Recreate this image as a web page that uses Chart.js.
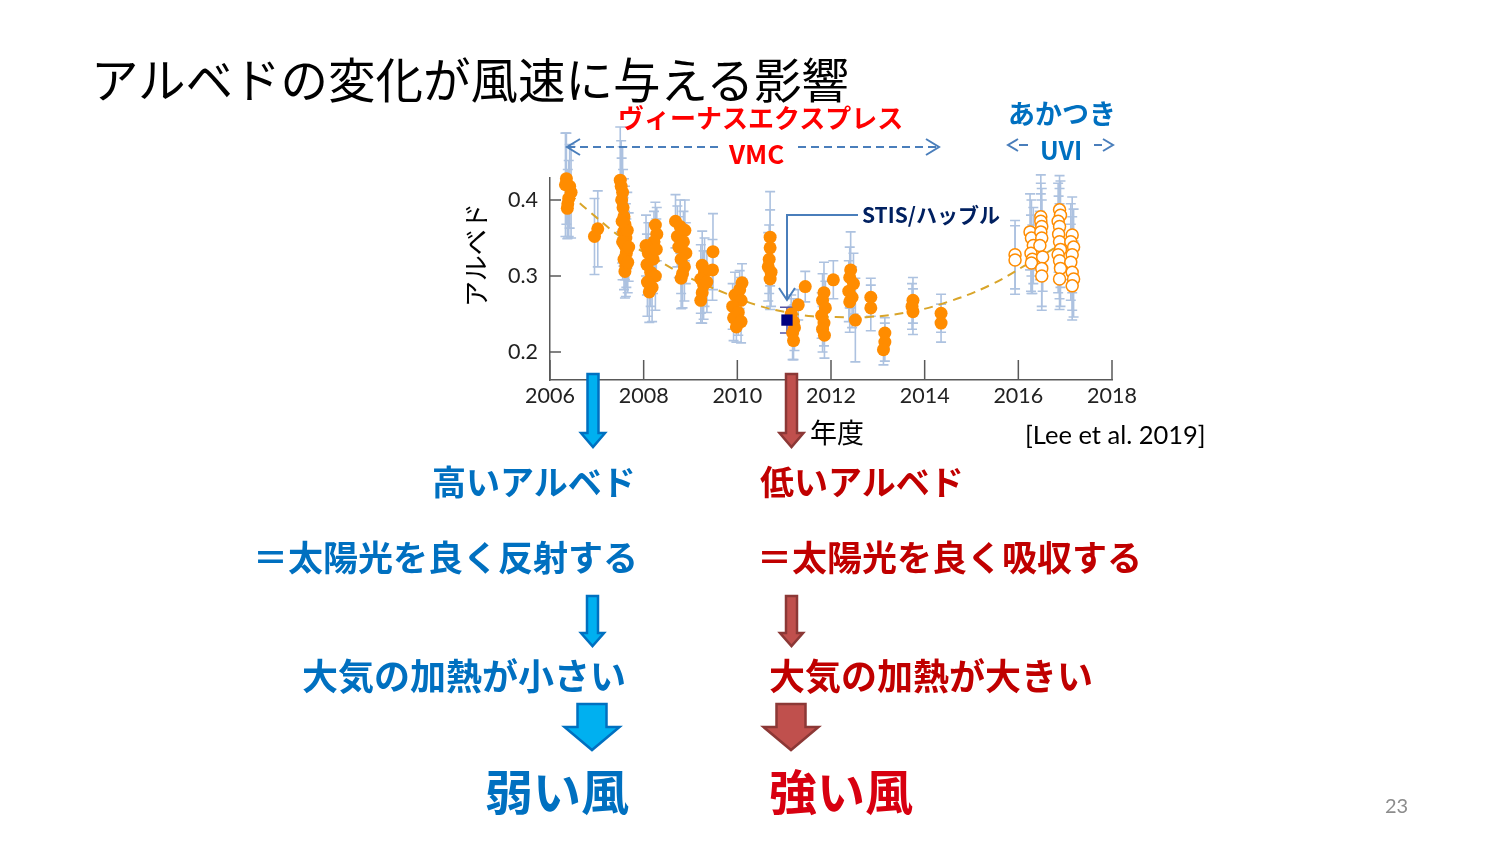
<!DOCTYPE html>
<html>
<head>
<meta charset="utf-8">
<script src="https://cdn.jsdelivr.net/npm/chart.js@4"></script>
<style>
  body { margin: 0; background: #fff; overflow: hidden; }
  #wrap { position: relative; width: 1500px; height: 843px; }
  #c { position: absolute; left: 0; top: 0; }
  #deco { position: absolute; left: 0; top: 0; }
  .t { position: absolute; white-space: nowrap; line-height: 1; font-family: "Noto Sans CJK JP", sans-serif; }
  .b { font-weight: 700; }
  .blue { color: #0070c0; }
  .red { color: #c00000; }
</style>
</head>
<body>
<div id="wrap">
  <canvas id="c" width="1500" height="843"></canvas>
  <svg id="deco" width="1500" height="843"></svg>

  <div class="t" style="left:91px;top:54px;font-size:47.5px;color:#000">アルベドの変化が風速に与える影響</div>
  <div class="t b" style="left:618px;top:104px;font-size:26px;color:#ff0000">ヴィーナスエクスプレス</div>
  <div class="t b" style="left:729px;top:140px;font-size:26px;color:#ff0000">VMC</div>
  <div class="t b blue" style="left:1008px;top:99px;font-size:27px">あかつき</div>
  <div class="t b blue" style="left:1040px;top:137px;font-size:25px">UVI</div>
  <div class="t b" style="left:862px;top:204px;font-size:21px;color:#002060">STIS/ハッブル</div>
  <div class="t" style="left:422px;top:242px;width:106px;text-align:center;font-size:26px;color:#000;transform:rotate(-90deg)">アルベド</div>
  <div class="t" style="left:810px;top:418px;font-size:27px;color:#000">年度</div>
  <div class="t" style="left:1025px;top:422px;font-size:25.5px;color:#000;font-family:Lato,sans-serif">[Lee et al. 2019]</div>

  <div class="t b blue" style="left:432px;top:464px;font-size:34px">高いアルベド</div>
  <div class="t b red" style="left:760px;top:464px;font-size:34px">低いアルベド</div>
  <div class="t b blue" style="left:253px;top:538px;font-size:35px">＝太陽光を良く反射する</div>
  <div class="t b red" style="left:757px;top:538px;font-size:35px">＝太陽光を良く吸収する</div>
  <div class="t b blue" style="left:302px;top:656px;font-size:36px">大気の加熱が小さい</div>
  <div class="t b red" style="left:769px;top:656px;font-size:36px">大気の加熱が大きい</div>
  <div class="t b blue" style="left:485px;top:765px;font-size:48px">弱い風</div>
  <div class="t b" style="left:769px;top:765px;font-size:48px;color:#d80010">強い風</div>
  <div class="t" style="left:1385px;top:795px;font-size:20px;color:#8c8c8c;font-family:Lato,sans-serif">23</div>
</div>

<script>
// axis ticks
const xTicks = [2006, 2008, 2010, 2012, 2014, 2016, 2018];
const yTicks = [0.2, 0.3, 0.4];

// Venus Express / VMC (filled circles), one row per observing period
const vmcYear = [
  2006.35, 2006.42, 2006.45, 2006.40, 2006.38, 2006.37, 2006.33,
  2006.95, 2007.02,
  2007.50, 2007.52, 2007.55, 2007.53, 2007.56, 2007.58, 2007.60, 2007.57, 2007.62, 2007.60, 2007.63, 2007.58, 2007.62, 2007.60, 2007.55, 2007.65, 2007.68, 2007.66, 2007.54,
  2008.25, 2008.28, 2008.22, 2008.05, 2008.10, 2008.20, 2008.07, 2008.15, 2008.25, 2008.08, 2008.18, 2008.12, 2008.27,
  2008.68, 2008.78, 2008.88, 2008.72, 2008.85, 2008.75, 2008.90, 2008.80, 2008.87, 2008.83, 2008.80,
  2009.25, 2009.30, 2009.22, 2009.28, 2009.25, 2009.22, 2009.48, 2009.47, 2009.35,
  2010.10, 2010.05, 2009.95, 2010.08, 2009.90, 2010.02, 2009.92, 2010.08, 2009.98,
  2010.70, 2010.70, 2010.68, 2010.66, 2010.72, 2010.70,
  2011.15, 2011.20, 2011.22, 2011.18, 2011.20, 2011.30, 2011.45,
  2011.85, 2011.82, 2011.88, 2011.80, 2011.85, 2011.82, 2011.86,
  2012.05,
  2012.42, 2012.40, 2012.48, 2012.38, 2012.45, 2012.40, 2012.52,
  2012.85, 2012.85,
  2013.15, 2013.15, 2013.12,
  2013.75, 2013.73, 2013.75,
  2014.35, 2014.35
];
const vmcAlbedo = [
  0.428, 0.418, 0.410, 0.402, 0.395, 0.389, 0.420,
  0.352, 0.362,
  0.426, 0.418, 0.410, 0.400, 0.390, 0.378, 0.368, 0.358, 0.350, 0.340, 0.330, 0.322, 0.313, 0.306, 0.345, 0.360, 0.338, 0.318, 0.372,
  0.367, 0.355, 0.345, 0.340, 0.330, 0.322, 0.315, 0.305, 0.300, 0.292, 0.285, 0.279, 0.335,
  0.372, 0.365, 0.360, 0.352, 0.345, 0.338, 0.330, 0.322, 0.312, 0.303, 0.297,
  0.314, 0.305, 0.296, 0.288, 0.278, 0.268, 0.332, 0.308, 0.292,
  0.291, 0.282, 0.275, 0.268, 0.260, 0.252, 0.245, 0.240, 0.233,
  0.351, 0.337, 0.322, 0.312, 0.305, 0.296,
  0.250, 0.240, 0.232, 0.225, 0.215, 0.262, 0.286,
  0.278, 0.268, 0.258, 0.248, 0.238, 0.230, 0.222,
  0.295,
  0.308, 0.298, 0.290, 0.280, 0.272, 0.266, 0.242,
  0.272, 0.258,
  0.225, 0.213, 0.203,
  0.268, 0.260, 0.253,
  0.251, 0.238
];
const vmcErr = [
  0.060, 0.055, 0.060, 0.050, 0.045, 0.040, 0.068,
  0.050, 0.050,
  0.070, 0.060, 0.060, 0.055, 0.050, 0.050, 0.050, 0.045, 0.045, 0.045, 0.045, 0.040, 0.040, 0.035, 0.050, 0.050, 0.045, 0.040, 0.055,
  0.030, 0.035, 0.040, 0.040, 0.040, 0.045, 0.040, 0.045, 0.045, 0.045, 0.045, 0.040, 0.040,
  0.035, 0.035, 0.040, 0.040, 0.040, 0.040, 0.040, 0.045, 0.045, 0.045, 0.040,
  0.045, 0.045, 0.045, 0.045, 0.040, 0.030, 0.050, 0.040, 0.040,
  0.025, 0.025, 0.030, 0.030, 0.030, 0.030, 0.030, 0.028, 0.020,
  0.060, 0.050, 0.045, 0.045, 0.045, 0.040,
  0.025, 0.030, 0.030, 0.035, 0.025, 0.020, 0.020,
  0.040, 0.035, 0.035, 0.030, 0.030, 0.030, 0.030,
  0.025,
  0.050, 0.040, 0.040, 0.040, 0.040, 0.040, 0.055,
  0.025, 0.030,
  0.020, 0.025, 0.020,
  0.030, 0.030, 0.030,
  0.025, 0.025
];

// Akatsuki / UVI (open circles)
const uviYear = [
  2015.93, 2015.93,
  2016.25, 2016.28, 2016.32, 2016.27, 2016.30, 2016.28,
  2016.48, 2016.48, 2016.50, 2016.48, 2016.50, 2016.46, 2016.52, 2016.50, 2016.50,
  2016.88, 2016.90, 2016.85, 2016.88, 2016.86, 2016.88, 2016.90, 2016.85, 2016.88, 2016.90, 2016.88,
  2017.15, 2017.12, 2017.18, 2017.15, 2017.12, 2017.15, 2017.18, 2017.15
];
const uviAlbedo = [
  0.328, 0.321,
  0.358, 0.350, 0.340, 0.330, 0.322, 0.317,
  0.378, 0.372, 0.365, 0.358, 0.350, 0.340, 0.325, 0.310, 0.300,
  0.387, 0.380, 0.372, 0.365, 0.355, 0.345, 0.335, 0.328, 0.320, 0.310, 0.296,
  0.354, 0.345, 0.338, 0.328, 0.318, 0.305, 0.296, 0.287
];
const uviErr = [
  0.045, 0.045,
  0.050, 0.050, 0.050, 0.050, 0.045, 0.040,
  0.055, 0.050, 0.050, 0.050, 0.050, 0.045, 0.045, 0.050, 0.045,
  0.045, 0.045, 0.050, 0.050, 0.050, 0.050, 0.050, 0.050, 0.050, 0.050, 0.040,
  0.050, 0.050, 0.050, 0.050, 0.050, 0.050, 0.050, 0.045
];

// STIS / Hubble
const stisYear = [2011.06];
const stisAlbedo = [0.242];
const stisErr = [0.017];

// dashed trend curve
const fitYear = [2006.4, 2006.8, 2007.6, 2008.3, 2009.0, 2009.8, 2010.4, 2011.0, 2011.6, 2012.1, 2012.8, 2013.7, 2014.5, 2015.4, 2016.2, 2017.0];
const fitAlbedo = [0.409, 0.387, 0.347, 0.321, 0.297, 0.276, 0.262, 0.253, 0.247, 0.246, 0.246, 0.253, 0.266, 0.288, 0.316, 0.345];

const pts = (xs, ys) => xs.map((x, i) => ({ x: x, y: ys[i] }));

const errorBars = {
  id: "errorBars",
  beforeDatasetsDraw(chart) {
    const ctx = chart.ctx;
    const xs = chart.scales.x;
    const ys = chart.scales.y;
    chart.data.datasets.forEach((ds) => {
      if (!ds.errors) return;
      ctx.save();
      ctx.strokeStyle = ds.errColor;
      ctx.lineWidth = ds.errWidth;
      ds.data.forEach((p, i) => {
        const px = xs.getPixelForValue(p.x);
        const top = ys.getPixelForValue(p.y + ds.errors[i]);
        const bot = ys.getPixelForValue(p.y - ds.errors[i]);
        ctx.beginPath();
        ctx.moveTo(px, top);
        ctx.lineTo(px, bot);
        ctx.moveTo(px - ds.capW, top);
        ctx.lineTo(px + ds.capW, top);
        ctx.moveTo(px - ds.capW, bot);
        ctx.lineTo(px + ds.capW, bot);
        ctx.stroke();
      });
      ctx.restore();
    });
  },
};

// tick marks point into the plot
const innerTicks = {
  id: "innerTicks",
  afterDraw(chart) {
    const ctx = chart.ctx;
    const a = chart.chartArea;
    ctx.save();
    ctx.strokeStyle = "#595959";
    ctx.lineWidth = 1.5;
    ctx.beginPath();
    xTicks.forEach((v) => {
      const px = chart.scales.x.getPixelForValue(v);
      ctx.moveTo(px, a.bottom);
      ctx.lineTo(px, a.bottom - 20);
    });
    yTicks.forEach((v) => {
      const py = chart.scales.y.getPixelForValue(v);
      ctx.moveTo(a.left, py);
      ctx.lineTo(a.left + 11, py);
    });
    ctx.stroke();
    ctx.restore();
  },
};

new Chart(document.getElementById("c"), {
  type: "scatter",
  data: {
    datasets: [
      {
        label: "fit",
        data: pts(fitYear, fitAlbedo),
        showLine: true,
        borderColor: "#d9a52a",
        borderWidth: 2,
        borderDash: [9, 6],
        pointRadius: 0,
        tension: 0.4,
        order: 4,
        clip: false,
      },
      {
        label: "VMC",
        data: pts(vmcYear, vmcAlbedo),
        backgroundColor: "#ff8c00",
        borderColor: "#ff8c00",
        borderWidth: 0,
        pointRadius: 6.5,
        order: 2,
        clip: false,
        errors: vmcErr,
        errColor: "#adc2e0",
        errWidth: 1.6,
        capW: 5,
      },
      {
        label: "UVI",
        data: pts(uviYear, uviAlbedo),
        backgroundColor: "#ffffff",
        borderColor: "#ff8c00",
        borderWidth: 1.5,
        pointRadius: 6,
        order: 3,
        clip: false,
        errors: uviErr,
        errColor: "#adc2e0",
        errWidth: 1.6,
        capW: 5,
      },
      {
        label: "STIS",
        data: pts(stisYear, stisAlbedo),
        pointStyle: "rect",
        backgroundColor: "#000080",
        borderColor: "#000080",
        borderWidth: 0,
        pointRadius: 8,
        order: 1,
        clip: false,
        errors: stisErr,
        errColor: "#5555a5",
        errWidth: 1.5,
        capW: 7,
      },
    ],
  },
  options: {
    responsive: false,
    animation: false,
    devicePixelRatio: 1,
    layout: { padding: { left: 500, right: 388, top: 178, bottom: 423 } },
    plugins: { legend: { display: false }, tooltip: { enabled: false } },
    scales: {
      x: {
        type: "linear",
        min: 2006,
        max: 2018,
        afterBuildTicks: (s) => { s.ticks = xTicks.map((v) => ({ value: v })); },
        afterFit: (s) => { s.height = 40; },
        grid: { drawOnChartArea: false, drawTicks: false },
        border: { color: "#595959", width: 1.5 },
        ticks: {
          padding: 3,
          color: "#222",
          font: { family: "Lato", size: 21.5 },
          callback: (v) => String(v),
        },
      },
      y: {
        min: 0.16316,
        max: 0.4289,
        afterBuildTicks: (s) => { s.ticks = yTicks.map((v) => ({ value: v })); },
        afterFit: (s) => { s.width = 50; },
        grid: { drawOnChartArea: false, drawTicks: false },
        border: { color: "#595959", width: 1.5 },
        ticks: {
          padding: 12,
          color: "#222",
          font: { family: "Lato", size: 21.5 },
          callback: (v) => v.toFixed(1),
        },
      },
    },
  },
  plugins: [errorBars, innerTicks],
});

// slide decorations: bracket arrows and down arrows
const svg = document.getElementById("deco");
const NS = "http://www.w3.org/2000/svg";
function add(tag, attrs) {
  const el = document.createElementNS(NS, tag);
  for (const k in attrs) el.setAttribute(k, attrs[k]);
  svg.appendChild(el);
}
const lineBlue = "#4a7ebb";
add("line", { x1: 567, y1: 147, x2: 722, y2: 147, stroke: lineBlue, "stroke-width": 2, "stroke-dasharray": "8 5" });
add("line", { x1: 798, y1: 147, x2: 938, y2: 147, stroke: lineBlue, "stroke-width": 2, "stroke-dasharray": "8 5" });
add("polyline", { points: "580,139 567,147 580,155", fill: "none", stroke: lineBlue, "stroke-width": 2 });
add("polyline", { points: "926,139 939,147 926,155", fill: "none", stroke: lineBlue, "stroke-width": 2 });
add("polyline", { points: "1018,139 1008,145 1018,151", fill: "none", stroke: lineBlue, "stroke-width": 2 });
add("line", { x1: 1019, y1: 145, x2: 1028, y2: 145, stroke: lineBlue, "stroke-width": 2 });
add("line", { x1: 1094, y1: 145, x2: 1102, y2: 145, stroke: lineBlue, "stroke-width": 2 });
add("polyline", { points: "1103,139 1113,145 1103,151", fill: "none", stroke: lineBlue, "stroke-width": 2 });
add("polyline", { points: "858,215 787,215 787,300", fill: "none", stroke: lineBlue, "stroke-width": 2 });
add("polyline", { points: "779,288 787,300 795,288", fill: "none", stroke: lineBlue, "stroke-width": 2 });

function downArrow(cx, y0, yh, tip, sw, hw, fill, stroke) {
  const p = [
    [cx - sw / 2, y0], [cx + sw / 2, y0], [cx + sw / 2, yh], [cx + hw / 2, yh],
    [cx, tip], [cx - hw / 2, yh], [cx - sw / 2, yh],
  ].map((q) => q.join(",")).join(" ");
  add("polygon", { points: p, fill: fill, stroke: stroke, "stroke-width": 2.5, "stroke-linejoin": "miter" });
}
downArrow(593, 374, 433, 447, 11, 24, "#00b0f0", "#0070c0");
downArrow(791.5, 374, 433, 447, 11, 24, "#c0504d", "#8c3836");
downArrow(592.5, 596, 633, 646, 11, 23, "#00b0f0", "#0070c0");
downArrow(791.5, 596, 633, 646, 11, 23, "#c0504d", "#8c3836");
downArrow(592, 704, 727, 750, 29, 55, "#00b0f0", "#0070c0");
downArrow(791, 704, 727, 750, 29, 55, "#c0504d", "#8c3836");
</script>
</body>
</html>
